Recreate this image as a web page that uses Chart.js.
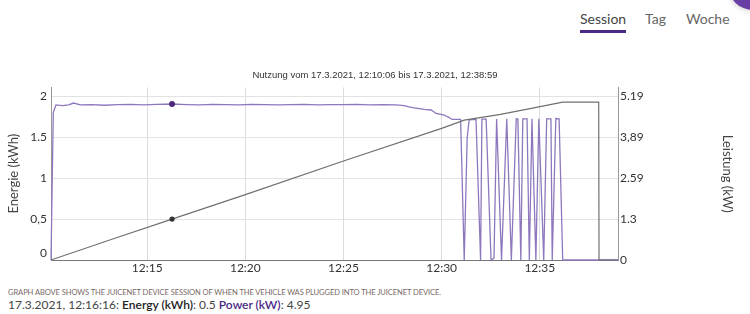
<!DOCTYPE html>
<html>
<head>
<meta charset="utf-8">
<script src="https://cdn.jsdelivr.net/npm/chart.js@4"></script>
<style>
  html, body { margin: 0; padding: 0; background: #fff; }
  body { width: 750px; height: 314px; position: relative; overflow: hidden; font-family: 'Segoe UI', Lato, 'Noto Sans', sans-serif; }
  .tabs { position: absolute; top: 10px; left: 580px; font-size: 14px; color: #666; }
  .tabs span { position: absolute; white-space: nowrap; }
  .tabs .active { color: #444; }
  .tabs .active::after { content: ''; position: absolute; left: 0; right: 0; top: 20px; height: 3px; background: #4b2a86; }
  .bubble { position: absolute; left: 728px; top: -40px; width: 50px; height: 50px; border-radius: 50%; background: #6a3fa5; box-shadow: 0 0 6px rgba(0,0,0,.25); }
  #wrap { position: absolute; left: 0; top: 62px; width: 750px; height: 220px; }
  .note { position: absolute; left: 8px; top: 287px; font-size: 7.6px; color: #7a6a68; white-space: nowrap; letter-spacing: -0.1px; }
  .hover { position: absolute; left: 8px; top: 297px; font-size: 12px; color: #444; white-space: nowrap; }
  .hover b { font-weight: 600; color: #222; }
  .hover .pw { color: #4b2a86; }
</style>
</head>
<body>
<div class="bubble"></div>
<div class="tabs">
  <span class="active" style="left:0">Session</span>
  <span style="left:65px">Tag</span>
  <span style="left:106px">Woche</span>
</div>
<div id="wrap"><canvas id="sessionChart"></canvas></div>
<div class="note">GRAPH ABOVE SHOWS THE JUICENET DEVICE SESSION OF WHEN THE VEHICLE WAS PLUGGED INTO THE JUICENET DEVICE.</div>
<div class="hover">17.3.2021, 12:16:16: <b>Energy (kWh)</b>: 0.5 <b class="pw">Power (kW)</b>: 4.95</div>

<script>
// Sitzungsdaten
const sessionStart = '12:10:06';
const sessionEnd = '12:38:59';
const hoverTime = '12:16:16'; // markierter Punkt

// Leistung (kW) - rechte Achse
const powerTimes = [
  '12:10:06', '12:10:13', '12:10:21', '12:10:41', '12:11:00', '12:11:15', '12:11:36', '12:12:10',
  '12:12:50', '12:13:30', '12:14:10', '12:14:50', '12:15:30', '12:16:16', '12:17:00', '12:17:40',
  '12:18:20', '12:19:00', '12:19:40', '12:20:20', '12:21:00', '12:21:40', '12:22:20', '12:23:00',
  '12:23:40', '12:24:20', '12:25:00', '12:25:40', '12:26:20', '12:27:00', '12:27:40', '12:28:06',
  '12:28:20', '12:28:36', '12:29:07', '12:29:28', '12:29:43', '12:30:08', '12:30:23', '12:30:32',
  '12:30:58', '12:31:09', '12:31:18', '12:31:24', '12:31:45', '12:31:59', '12:32:03', '12:32:16',
  '12:32:31', '12:32:40', '12:32:48', '12:33:03', '12:33:19', '12:33:33', '12:33:48', '12:33:53',
  '12:34:02', '12:34:08', '12:34:21', '12:34:28', '12:34:36', '12:34:48', '12:34:57', '12:35:12',
  '12:35:21', '12:35:34', '12:35:38', '12:35:49', '12:35:59', '12:36:10', '12:38:59'
];
const powerValues = [
  0, 4.68, 4.92, 4.90, 4.92, 4.98, 4.92, 4.93,
  4.91, 4.93, 4.94, 4.92, 4.94, 4.95, 4.93, 4.92,
  4.94, 4.93, 4.92, 4.94, 4.93, 4.92, 4.93, 4.94,
  4.92, 4.93, 4.93, 4.94, 4.92, 4.93, 4.92, 4.90,
  4.86, 4.83, 4.78, 4.76, 4.65, 4.60, 4.52, 4.46,
  4.46, 0, 3.88, 4.45, 4.46, 0, 4.47, 4.47,
  0, 0.06, 4.47, 0, 4.48, 0, 4.48, 4.47,
  0, 4.48, 4.48, 0, 4.48, 0, 4.48, 0,
  4.48, 4.48, 0, 4.49, 4.48, 0, 0
];

// Energie (kWh) - linke Achse
const energyTimes = [
  '12:10:06', '12:13:10', '12:16:16', '12:20:00', '12:25:00', '12:30:00', '12:31:09',
  '12:33:00', '12:34:30', '12:36:10', '12:38:00', '12:38:01', '12:38:59'
];
const energyValues = [
  0, 0.25, 0.5, 0.80, 1.21, 1.61, 1.71,
  1.78, 1.85, 1.93, 1.93, 0, 0
];

// Achsenbeschriftungen
const xTickLabels = ['12:15', '12:20', '12:25', '12:30', '12:35'];
const leftTickValues = [0, 0.5, 1, 1.5, 2];
const leftTickLabels = ['0', '0,5', '1', '1.5', '2'];
const rightTickValues = [0, 1.2975, 2.595, 3.8925, 5.19];
const rightTickLabels = ['0', '1.3', '2.59', '3,89', '5.19'];

function toSec(t) {
  const p = t.split(':').map(Number);
  return p[0] * 3600 + p[1] * 60 + (p[2] || 0);
}

const hoverSec = toSec(hoverTime);
const powerPoints = powerTimes.map((t, i) => ({ x: toSec(t), y: powerValues[i] }));
const energyPoints = energyTimes.map((t, i) => ({ x: toSec(t), y: energyValues[i] }));

const tickFont = { family: "'Segoe UI', Lato, 'Noto Sans', sans-serif", size: 12 };

const ctx = document.getElementById('sessionChart').getContext('2d');
new Chart(ctx, {
  type: 'line',
  data: {
    datasets: [
      {
        label: 'Energie (kWh)',
        data: energyPoints,
        yAxisID: 'y',
        borderColor: '#707070',
        borderWidth: 1.2,
        tension: 0,
        clip: 3,
        pointBackgroundColor: '#333',
        pointBorderWidth: 0,
        pointRadius: c => (c.raw && c.raw.x === hoverSec ? 2.6 : 0)
      },
      {
        label: 'Leistung (kW)',
        data: powerPoints,
        yAxisID: 'y2',
        borderColor: '#8d78bd',
        borderWidth: 1.3,
        tension: 0,
        clip: 3,
        pointBackgroundColor: '#4b2a7b',
        pointBorderWidth: 0,
        pointRadius: c => (c.raw && c.raw.x === hoverSec ? 3 : 0)
      }
    ]
  },
  options: {
    responsive: true,
    maintainAspectRatio: false,
    animation: false,
    layout: { padding: 0 },
    plugins: {
      legend: { display: false },
      tooltip: { enabled: false },
      title: {
        display: true,
        text: 'Nutzung vom 17.3.2021, 12:10:06 bis 17.3.2021, 12:38:59',
        color: '#333',
        font: { family: "'Liberation Sans', Arial, sans-serif", size: 9.5, weight: 'normal' },
        padding: { top: 8, bottom: 6 }
      }
    },
    scales: {
      x: {
        type: 'linear',
        bounds: 'data',
        min: toSec(sessionStart),
        max: toSec(sessionEnd),
        afterBuildTicks: s => { s.ticks = xTickLabels.map(l => ({ value: toSec(l) })); },
        afterFit: s => { s.height = 22; },
        grid: { color: '#dcdcdc', drawTicks: false },
        border: { color: '#777' },
        ticks: {
          color: '#333', font: tickFont, padding: 1, maxRotation: 0, autoSkip: false,
          callback: (v, i) => xTickLabels[i]
        }
      },
      y: {
        position: 'left',
        bounds: 'data',
        min: 0,
        max: 2.1104,
        afterBuildTicks: s => { s.ticks = leftTickValues.map(v => ({ value: v })); },
        afterFit: s => { s.width = 51; },
        grid: { color: '#e2e2e2', drawTicks: false },
        border: { color: '#999' },
        ticks: {
          color: '#333', font: tickFont, padding: 4, autoSkip: false,
          callback: (v, i) => (i === 0 ? [leftTickLabels[i], ''] : leftTickLabels[i])
        },
        title: {
          display: true, text: 'Energie (kWh)', color: '#444',
          font: { family: tickFont.family, size: 13 }, padding: { top: 6, bottom: 0 }
        }
      },
      y2: {
        position: 'right',
        bounds: 'data',
        min: 0,
        max: 5.4766,
        afterBuildTicks: s => { s.ticks = rightTickValues.map(v => ({ value: v })); },
        afterFit: s => { s.width = 132; },
        grid: { display: false, drawTicks: false },
        border: { color: '#999' },
        ticks: {
          color: '#333', font: tickFont, padding: 2, autoSkip: false,
          callback: (v, i) => rightTickLabels[i]
        },
        title: {
          display: true, text: 'Leistung (kW)', color: '#444',
          font: { family: tickFont.family, size: 13 }, padding: { top: 15, bottom: 0 }
        }
      }
    }
  }
});
</script>
</body>
</html>
